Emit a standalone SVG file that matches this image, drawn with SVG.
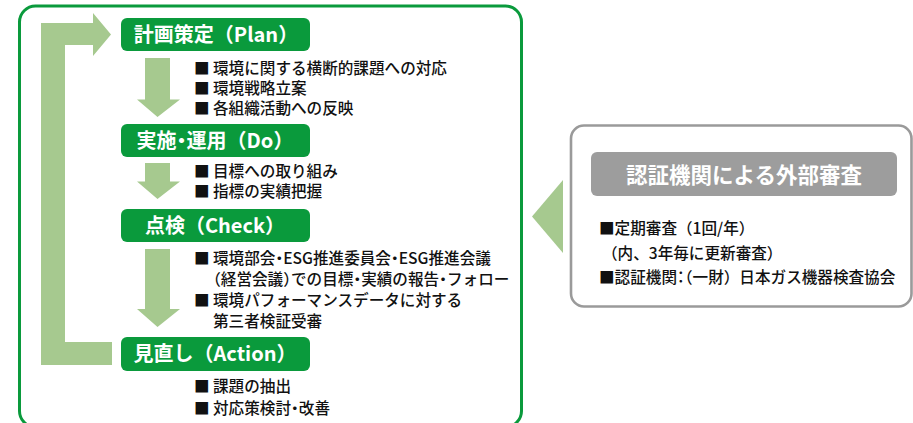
<svg xmlns="http://www.w3.org/2000/svg" width="913" height="423" viewBox="0 0 913 423">
<style>
.frame{fill:#fff;stroke:#0a9a3c;stroke-width:3}
.gframe{fill:#fff;stroke:#9a9a9a;stroke-width:2.6}
.hbox{fill:#0a9a3c}
.gbox{fill:#9d9d9d}
.arr{fill:#a6c98f}
.ht{font-family:"Noto Sans CJK JP","Noto Sans",sans-serif;font-weight:700;font-size:20px;fill:#fff;text-anchor:middle}
.gt{font-family:"Noto Sans CJK JP","Noto Sans",sans-serif;font-weight:700;font-size:21.5px;fill:#fff;text-anchor:middle}
.bt{font-family:"Noto Sans CJK JP","Noto Sans",sans-serif;font-weight:500;font-size:15.6px;fill:#111}
.h{font-feature-settings:"halt"}
</style>
<rect id="cycle-frame" class="frame" x="19.5" y="6" width="502" height="421" rx="16"/>
<g id="connectors">
<polygon class="arr" points="41,23 93,23 93,13 111,34.5 93,56 93,45 65,45 65,342 112,342 112,365 41,365"/>
<polygon class="arr" points="145,58 170,58 170,99.5 180,99.5 157.5,117 137,99.5 145,99.5"/>
<polygon class="arr" points="145,163 170,163 170,181.5 180,181.5 157.5,199 137,181.5 145,181.5"/>
<polygon class="arr" points="145,249 170,249 170,309 180,309 157.5,327 137,309 145,309"/>
<polygon class="arr" points="563,180 563,253 532,216.5"/>
</g>
<g id="plan">
<rect class="hbox" x="121" y="18" width="189" height="33" rx="6"/>
<text class="ht" x="216" y="41.5">計画策定（Plan）</text>
<text class="bt" x="194" y="73.5">■<tspan x="213">環境に関する横断的課題への対応</tspan></text>
<text class="bt" x="194" y="93.5">■<tspan x="213">環境戦略立案</tspan></text>
<text class="bt" x="194" y="113.5">■<tspan x="213">各組織活動への反映</tspan></text>
</g>
<g id="do">
<rect class="hbox" x="121" y="124" width="189" height="33" rx="6"/>
<text class="ht" x="215" y="147.5">実施<tspan class="h">・</tspan>運用（Do）</text>
<text class="bt" x="194" y="177">■<tspan x="213">目標への取り組み</tspan></text>
<text class="bt" x="194" y="197">■<tspan x="213">指標の実績把握</tspan></text>
</g>
<g id="check">
<rect class="hbox" x="121" y="209" width="189" height="33" rx="6"/>
<text class="ht" x="215" y="232.5">点検（Check）</text>
<text class="bt" x="194" y="263.5">■<tspan x="213">環境部会<tspan class="h">・</tspan>ESG推進委員会<tspan class="h">・</tspan>ESG推進会議</tspan></text>
<text class="bt" x="213" y="284.5"><tspan class="h">（</tspan>経営会議<tspan class="h">）</tspan>での目標<tspan class="h">・</tspan>実績の報告<tspan class="h">・</tspan>フォロー</text>
<text class="bt" x="194" y="305.5">■<tspan x="213">環境パフォーマンスデータに対する</tspan></text>
<text class="bt" x="213" y="326.5">第三者検証受審</text>
</g>
<g id="action">
<rect class="hbox" x="121" y="337" width="189" height="34" rx="6"/>
<text class="ht" x="215" y="361">見直し（Action）</text>
<text class="bt" x="194" y="392">■<tspan x="213">課題の抽出</tspan></text>
<text class="bt" x="194" y="413.5">■<tspan x="213">対応策検討<tspan class="h">・</tspan>改善</tspan></text>
</g>
<g id="external-audit">
<rect class="gframe" x="571" y="125.5" width="340.5" height="181" rx="13"/>
<rect class="gbox" x="591" y="152" width="306" height="44" rx="6"/>
<text class="gt" x="744" y="182.5">認証機関による外部審査</text>
<text class="bt" x="599" y="234">■定期審査（1回/年）</text>
<text class="bt" x="602" y="259">（内、3年毎に更新審査）</text>
<text class="bt" x="599" y="282.5">■認証機関<tspan class="h">：</tspan>（一財）日本ガス機器検査協会</text>
</g>
</svg>
